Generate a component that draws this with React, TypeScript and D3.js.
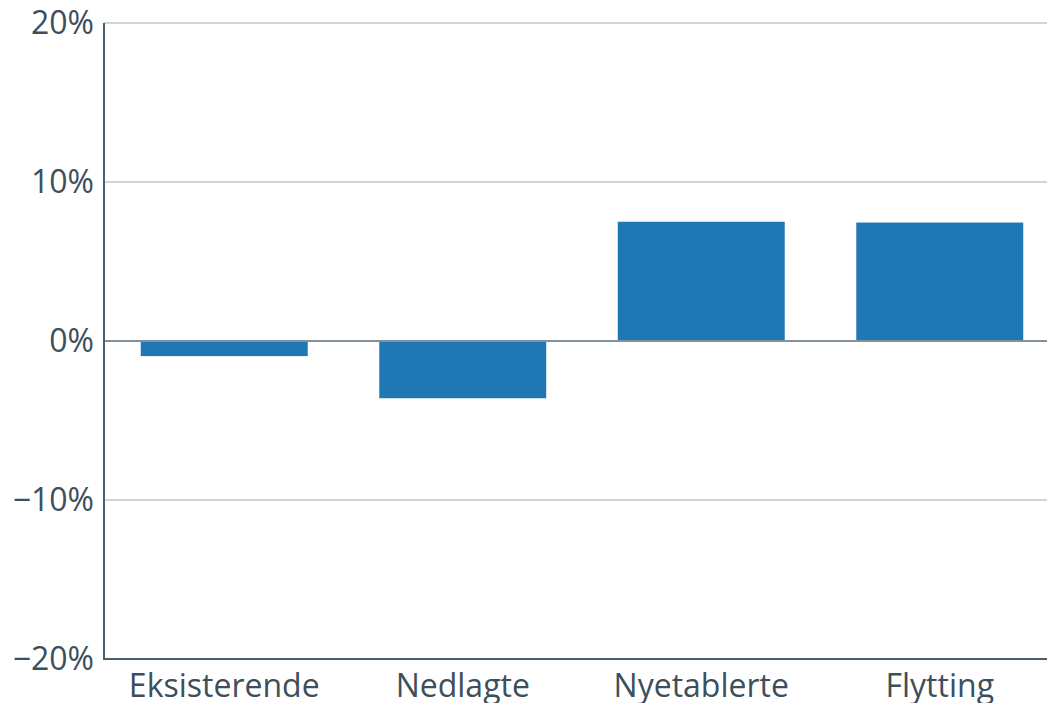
import { useEffect, useRef } from 'react';
import * as d3 from 'd3';

const categories = ['Eksisterende', 'Nedlagte', 'Nyetablerte', 'Flytting'];
const values = [-0.95, -3.6, 7.5, 7.45];
const yTicks = [-20, -10, 0, 10, 20];

const WIDTH = 1047;
const HEIGHT = 703;

export default function App() {
  const svgRef = useRef<SVGSVGElement>(null);

  useEffect(() => {
    if (!svgRef.current) return;
    const svg = d3.select(svgRef.current);
    svg.selectAll('*').remove();

    const left = 104;
    const top = 23;
    const bottom = 659;

    const x = d3
      .scaleBand()
      .domain(categories)
      .range([left + 1, left + 955])
      .paddingInner(0.3)
      .paddingOuter(0.15);

    const y = d3.scaleLinear().domain([-20, 20]).range([bottom, top]);

    const font = "'Open Sans', sans-serif";
    const textColor = '#3d4f5b';

    // gridlines
    svg
      .append('g')
      .selectAll('line')
      .data(yTicks.filter((t) => t !== 0))
      .join('line')
      .attr('x1', left)
      .attr('x2', WIDTH)
      .attr('y1', (d) => y(d))
      .attr('y2', (d) => y(d))
      .attr('stroke', '#9eadb7')
      .attr('stroke-width', 1);

    // bars
    svg
      .append('g')
      .selectAll('rect')
      .data(values)
      .join('rect')
      .attr('x', (_, i) => x(categories[i])!)
      .attr('width', x.bandwidth())
      .attr('y', (d) => y(Math.max(0, d)))
      .attr('height', (d) => Math.abs(y(d) - y(0)))
      .attr('fill', '#1f77b4');

    // zero line
    svg
      .append('line')
      .attr('x1', left)
      .attr('x2', WIDTH)
      .attr('y1', y(0))
      .attr('y2', y(0))
      .attr('stroke', '#7f929e')
      .attr('stroke-width', 2);

    // y axis line + bottom line
    svg
      .append('line')
      .attr('x1', left)
      .attr('x2', left)
      .attr('y1', top)
      .attr('y2', bottom + 1)
      .attr('stroke', '#4a5f6c')
      .attr('stroke-width', 2);
    svg
      .append('line')
      .attr('x1', left)
      .attr('x2', WIDTH)
      .attr('y1', bottom)
      .attr('y2', bottom)
      .attr('stroke', '#4a5f6c')
      .attr('stroke-width', 2);

    // y tick labels
    svg
      .append('g')
      .selectAll('text')
      .data(yTicks)
      .join('text')
      .attr('x', left - 10)
      .attr('y', (d) => y(d))
      .attr('dy', '0.35em')
      .attr('text-anchor', 'end')
      .attr('font-family', font)
      .attr('font-size', 32)
      .attr('fill', textColor)
      .text((d) => `${d < 0 ? '\u2212' : ''}${Math.abs(d)}%`);

    // x labels
    svg
      .append('g')
      .selectAll('text')
      .data(categories)
      .join('text')
      .attr('x', (d) => x(d)! + x.bandwidth() / 2)
      .attr('y', bottom + 38)
      .attr('text-anchor', 'middle')
      .attr('font-family', font)
      .attr('font-size', 32)
      .attr('fill', textColor)
      .text((d) => d);
  }, []);

  return (
    <svg
      ref={svgRef}
      width={WIDTH}
      height={HEIGHT}
      style={{ position: 'absolute', left: 0, top: 0, background: '#fff' }}
    />
  );
}
